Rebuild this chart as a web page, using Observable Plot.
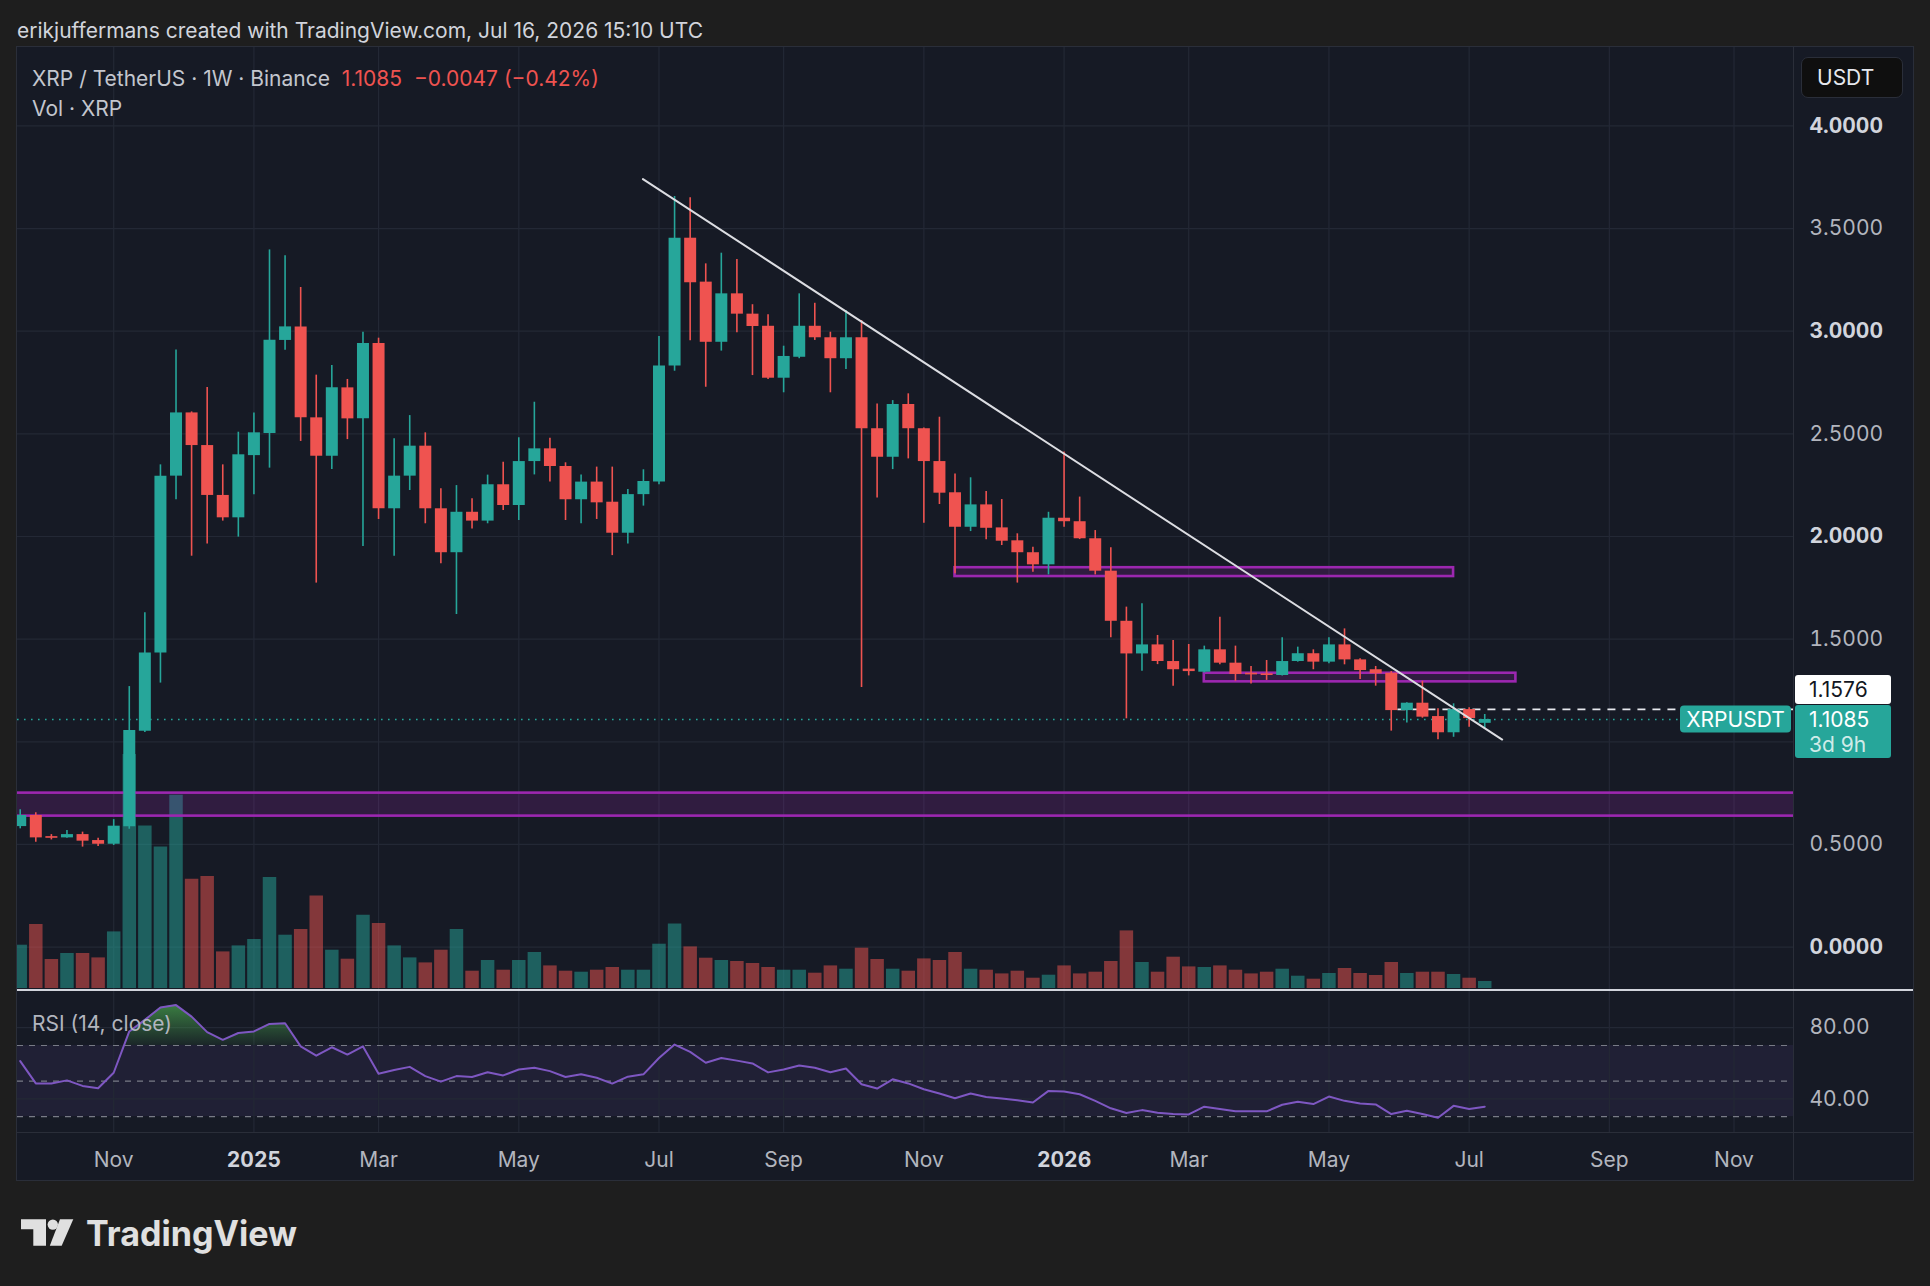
<!DOCTYPE html>
<html lang="en">
<head>
<meta charset="utf-8">
<title>XRP / TetherUS · 1W · Binance</title>
<script src="https://cdn.jsdelivr.net/npm/d3@7"></script>
<script src="https://cdn.jsdelivr.net/npm/@observablehq/plot@0.6"></script>
<style>
  html, body { margin: 0; padding: 0; background: #1e1e1e; }
  body { position: relative; width: 1930px; height: 1286px; overflow: hidden;
         font-family: Inter, "Noto Sans", sans-serif; }
  .layer { position: absolute; }
  .layer svg { display: block; overflow: visible; }
  #panel { position: absolute; left: 17px; top: 47px; width: 1896px; height: 1133px;
           background: #161a25; box-shadow: 0 0 0 1px #2a2e39; }
  .rule { position: absolute; }
  .txt { position: absolute; white-space: nowrap; }
</style>
</head>
<body>
<div class="txt" style="left:17px; top:17px; font-size:21px; line-height:28px; color:#d1d4dc;">erikjuffermans created with TradingView.com, Jul 16, 2026 15:10 UTC</div>
<div id="panel"></div>
<div class="layer" id="gridLayer" style="left:17px; top:47px;"></div>
<div class="layer" id="volLayer" style="left:17px; top:47px;"></div>
<div class="layer" id="priceLayer" style="left:17px; top:47px;"></div>
<div class="layer" id="rsiLayer" style="left:17px; top:990px;"></div>

<!-- pane separators -->
<div class="rule" style="left:1793px; top:47px; width:1px; height:1133px; background:#2a2e39;"></div>
<div class="rule" style="left:17px; top:989px; width:1896px; height:2px; background:#d1d4dc;"></div>
<div class="rule" style="left:17px; top:1132px; width:1896px; height:1px; background:#2a2e39;"></div>

<!-- legend -->
<div class="txt" style="left:32px; top:65px; font-size:21px; line-height:28px; color:#c3c6ce;">
  XRP / TetherUS · 1W · Binance&nbsp;&nbsp;<span id="lastTxt" style="color:#ef5350;"></span>&nbsp;&nbsp;<span id="chgTxt" style="color:#ef5350;"></span>
</div>
<div class="txt" style="left:32px; top:95px; font-size:21px; line-height:28px; color:#c3c6ce;">Vol · XRP</div>
<div class="txt" style="left:32px; top:1010px; font-size:21px; line-height:28px; color:#b2b5be;">RSI (14, close)</div>

<!-- currency selector -->
<div class="txt" style="left:1801px; top:57px; width:102px; height:41px; box-sizing:border-box; border:1px solid #2a2e39; border-radius:7px; background:#0f0f0f; color:#e6e8ee; font-size:21px; line-height:39px; padding-left:15px;">USDT</div>

<!-- logo -->
<svg class="layer" style="left:0; top:1200px;" width="330" height="70">
  <g fill="#e0e0e0">
    <path d="M21 19.3 H46 V45.7 H33.3 V29.3 H21 Z"/>
    <circle cx="52.8" cy="24.6" r="5.2"/>
    <path d="M60 19.3 H73.3 L61.7 45.7 H49.8 Z"/>
    <text x="86" y="45.7" font-family="Inter, 'Noto Sans', sans-serif" font-size="35" font-weight="700"
          textLength="211" lengthAdjust="spacingAndGlyphs">TradingView</text>
  </g>
</svg>

<script>
// ---- weekly XRPUSDT bars (first bar: week of 2024-09-23) ----
const firstWeek = "2024-09-23";
const opens = [0.587,0.641,0.538,0.532,0.548,0.519,0.501,0.586,1.052,1.432,
  2.294,2.602,2.443,2.200,2.091,2.394,2.502,2.955,3.021,2.578,
  2.391,2.724,2.573,2.940,2.135,2.294,2.440,2.135,1.921,2.118,
  2.075,2.252,2.151,2.365,2.427,2.341,2.179,2.265,2.167,2.016,
  2.204,2.265,2.830,3.453,3.239,2.946,3.182,3.083,3.024,2.771,
  2.873,3.024,2.968,2.866,2.968,2.525,2.386,2.643,2.525,2.365,
  2.213,2.045,2.154,2.042,1.979,1.921,1.862,2.089,2.072,1.989,
  1.831,1.587,1.428,1.472,1.391,1.354,1.339,1.448,1.383,1.334,
  1.331,1.323,1.391,1.429,1.388,1.472,1.399,1.351,1.334,1.152,
  1.188,1.123,1.044,1.157,1.090];
const highs = [0.669,0.654,0.548,0.568,0.560,0.530,0.621,1.269,1.628,2.349,
  2.909,2.607,2.726,2.349,2.508,2.602,3.396,3.367,3.213,2.786,
  2.833,2.765,2.995,2.966,2.476,2.589,2.505,2.232,2.248,2.184,
  2.299,2.362,2.481,2.654,2.479,2.359,2.299,2.338,2.338,2.229,
  2.325,2.974,3.656,3.650,3.328,3.380,3.349,3.129,3.080,2.927,
  3.182,3.136,2.995,3.101,3.052,2.646,2.662,2.695,2.529,2.581,
  2.305,2.286,2.219,2.180,2.013,1.948,2.118,2.411,2.192,2.029,
  1.945,1.656,1.672,1.518,1.493,1.474,1.466,1.607,1.466,1.367,
  1.396,1.507,1.461,1.448,1.507,1.550,1.405,1.367,1.342,1.190,
  1.295,1.161,1.185,1.166,1.133];
const lows = [0.576,0.511,0.522,0.530,0.487,0.490,0.495,0.574,1.045,1.286,
  2.179,1.904,1.964,2.075,1.997,2.203,2.333,2.907,2.463,1.773,
  2.326,2.472,1.951,2.083,1.904,2.224,2.062,1.867,1.620,2.037,
  2.062,2.127,2.078,2.300,2.265,2.078,2.062,2.083,1.907,1.964,
  2.148,2.252,2.805,2.953,2.727,2.903,2.992,2.784,2.765,2.700,
  2.866,2.955,2.700,2.813,1.265,2.188,2.326,2.378,2.065,2.156,
  1.818,2.024,1.984,1.956,1.773,1.826,1.813,2.045,1.985,1.813,
  1.507,1.112,1.344,1.376,1.271,1.321,1.335,1.375,1.295,1.282,
  1.299,1.320,1.388,1.351,1.380,1.375,1.303,1.271,1.052,1.091,
  1.115,1.010,1.022,1.071,1.063];
const closes = [0.641,0.532,0.530,0.548,0.516,0.501,0.589,1.055,1.432,2.294,
  2.602,2.443,2.200,2.091,2.398,2.505,2.956,3.021,2.578,2.391,
  2.724,2.573,2.940,2.135,2.294,2.440,2.135,1.921,2.118,2.075,
  2.252,2.151,2.365,2.427,2.341,2.179,2.265,2.164,2.016,2.204,
  2.268,2.831,3.453,3.236,2.946,3.182,3.083,3.023,2.771,2.877,
  3.024,2.968,2.866,2.968,2.525,2.386,2.643,2.525,2.365,2.211,
  2.045,2.154,2.040,1.977,1.921,1.862,2.089,2.072,1.989,1.831,
  1.587,1.428,1.472,1.391,1.351,1.342,1.448,1.383,1.328,1.326,
  1.323,1.391,1.429,1.388,1.472,1.399,1.347,1.331,1.152,1.188,
  1.120,1.044,1.157,1.1132,1.1085];
// weekly volume, millions of XRP
const volumes = [433,640,290,350,350,306,566,2340,1626,1416,
  1933,1093,1120,366,426,490,1110,533,590,926,
  383,293,733,650,426,306,256,383,590,173,
  280,183,280,360,226,173,163,183,210,183,
  183,443,646,416,303,280,270,250,210,183,
  183,153,226,193,403,290,193,173,296,280,
  360,193,183,146,173,103,133,226,146,163,
  270,576,260,163,313,216,210,226,183,146,
  163,193,123,93,150,200,150,130,260,150,
  163,163,140,103,70];
// RSI(14) on weekly closes
const rsiValues = [61.2,48.7,48.7,50.4,47.3,46.0,54.7,77.9,84.4,91.4,
  92.7,86.2,77.5,73.2,77.0,77.9,82.1,82.5,69.5,64.3,
  69.0,64.9,69.5,54.1,56.2,58.0,52.8,49.7,52.8,52.3,
  55.0,53.2,56.5,57.5,55.6,52.3,53.9,51.9,48.6,52.5,
  53.8,63.0,70.5,66.4,60.3,63.0,61.5,59.9,54.9,56.5,
  58.8,57.5,55.0,57.1,48.2,45.8,51.0,48.7,45.4,43.0,
  40.4,43.0,41.1,40.2,39.3,38.0,44.5,44.1,42.6,38.9,
  34.7,32.1,33.7,32.2,31.5,31.3,35.6,34.3,33.0,33.0,
  33.0,36.7,38.4,37.1,41.3,38.9,37.4,36.9,31.5,33.3,
  31.5,29.4,36.1,34.3,35.6];

// ---- time axis ----
const tickDates = ["2024-11-04","2025-01-06","2025-03-03","2025-05-05","2025-07-07","2025-09-01",
  "2025-11-03","2026-01-05","2026-03-02","2026-05-04","2026-07-06","2026-09-07","2026-11-02"];
const tickLabels = ["Nov","2025","Mar","May","Jul","Sep","Nov","2026","Mar","May","Jul","Sep","Nov"];

// ---- price axis ----
const priceGrid = [0, 0.5, 1, 1.5, 2, 2.5, 3, 3.5, 4];
const priceLabelsBold = [0, 2, 3, 4];
const priceLabelsRegular = [0.5, 1.5, 2.5, 3.5];
const rsiGrid = [80, 40];
const rsiLevels = [70, 50, 30];

// ---- drawings ----
const zoneFrom = ["2024-09-01", "2025-11-17", "2026-03-09"];
const zoneTo   = ["2026-12-31", "2026-06-29", "2026-07-27"];
const zoneLow  = [0.638, 1.805, 1.292];
const zoneHigh = [0.750, 1.848, 1.334];
const trendDates  = ["2025-06-29T19:00Z", "2026-07-20T20:00Z"];
const trendPrices = [3.741, 1.011];
const rayStart = "2026-06-04";
const rayPrice = 1.1576;

// ---- derived tables ----
const bars = opens.map((o, i) => ({
  date: d3.utcMonday.offset(new Date(firstWeek), i),
  open: o, high: highs[i], low: lows[i], close: closes[i],
  volume: volumes[i], rsi: rsiValues[i]
}));
const upBars = bars.filter(d => d.close >= d.open);
const downBars = bars.filter(d => d.close < d.open);
const ticks = tickDates.map(d => new Date(d));
const tickText = new Map(ticks.map((d, i) => [+d, tickLabels[i]]));
const isYear = d => /^\d{4}$/.test(tickText.get(+d));
const zones = zoneFrom.map((d, i) => ({x1: new Date(d), x2: new Date(zoneTo[i]), y1: zoneLow[i], y2: zoneHigh[i]}));
const trend = trendDates.map((d, i) => ({date: new Date(d), price: trendPrices[i]}));

const lastClose = closes[closes.length - 1];
const prevClose = closes[closes.length - 2];
const change = lastClose - prevClose;
const fmtSigned = v => (v < 0 ? "\u2212" : "+") + Math.abs(v).toFixed(4);
document.getElementById("lastTxt").textContent = lastClose.toFixed(4);
document.getElementById("chgTxt").textContent =
  fmtSigned(change) + " (" + (change < 0 ? "\u2212" : "+") + Math.abs(change / prevClose * 100).toFixed(2) + "%)";

// ---- shared layout ----
const UP = "#26a69a", DOWN = "#ef5350", GRID = "#232835";
const W = 1896, RIGHT = 120, PRICE_H = 943;
const FONT = "Inter, 'Noto Sans', sans-serif";
const xDomain = [new Date("2024-09-21T18:40Z"), new Date("2026-11-28T17:27Z")];
const priceDomain = [-0.2114, 4.3819];
const baseStyle = {background: "transparent", color: "#b2b5be", fontFamily: FONT, fontSize: "21px"};
const frameOpts = {width: W, marginLeft: 0, marginRight: RIGHT, marginTop: 0, style: baseStyle};

// grid + price scale labels
const gridPlot = Plot.plot({
  ...frameOpts, height: PRICE_H, marginBottom: 0,
  x: {type: "utc", domain: xDomain, axis: null},
  y: {domain: priceDomain, axis: null},
  marks: [
    Plot.ruleY(priceGrid, {stroke: GRID, strokeWidth: 1.2}),
    Plot.ruleX(ticks, {stroke: GRID, strokeWidth: 1.2}),
    Plot.axisY(priceLabelsBold, {anchor: "right", tickSize: 0, tickPadding: 16, label: null,
      tickFormat: d3.format(".4f"), fontWeight: 700, fill: "#d1d4dc"}),
    Plot.axisY(priceLabelsRegular, {anchor: "right", tickSize: 0, tickPadding: 16, label: null,
      tickFormat: d3.format(".4f"), fill: "#b2b5be"})
  ]
});
document.getElementById("gridLayer").append(gridPlot);

// volume histogram (own scale, bottom of the price pane)
const volPlot = Plot.plot({
  ...frameOpts, height: PRICE_H, marginBottom: 2,
  x: {type: "utc", domain: xDomain, axis: null},
  y: {domain: [0, 9410], axis: null},
  marks: [
    Plot.ruleX(upBars, {x: "date", y1: 0, y2: "volume", stroke: UP, strokeOpacity: 0.5, strokeWidth: 13.5, clip: true}),
    Plot.ruleX(downBars, {x: "date", y1: 0, y2: "volume", stroke: DOWN, strokeOpacity: 0.5, strokeWidth: 13.5, clip: true})
  ]
});
document.getElementById("volLayer").append(volPlot);

// zones, candles and drawings
const pricePlot = Plot.plot({
  ...frameOpts, height: PRICE_H, marginBottom: 0,
  x: {type: "utc", domain: xDomain, axis: null},
  y: {domain: priceDomain, axis: null},
  marks: [
    Plot.rect(zones, {x1: "x1", x2: "x2", y1: "y1", y2: "y2", fill: "#9c27b0", fillOpacity: 0.2,
      stroke: "#9c27b0", strokeWidth: 2.6, clip: true}),
    Plot.ruleY([lastClose], {stroke: UP, strokeWidth: 1.6, strokeDasharray: "1.6,5.4"}),
    Plot.ruleY([rayPrice], {x1: new Date(rayStart), x2: xDomain[1], stroke: "#e6e8ee", strokeWidth: 1.8, strokeDasharray: "8,7"}),
    Plot.ruleX(upBars, {x: "date", y1: "low", y2: "high", stroke: UP, strokeWidth: 1.6, clip: true}),
    Plot.ruleX(downBars, {x: "date", y1: "low", y2: "high", stroke: DOWN, strokeWidth: 1.6, clip: true}),
    Plot.ruleX(upBars, {x: "date", y1: "open", y2: "close", stroke: UP, strokeWidth: 12, clip: true}),
    Plot.ruleX(downBars, {x: "date", y1: "open", y2: "close", stroke: DOWN, strokeWidth: 12, clip: true}),
    Plot.line(trend, {x: "date", y: "price", stroke: "#dcdde2", strokeWidth: 2})
  ]
});
document.getElementById("priceLayer").append(pricePlot);

// price tags on the right scale, placed through the y scale
{
  const y = pricePlot.scale("y");
  const svg = d3.select(pricePlot);
  const g = svg.append("g").attr("font-family", FONT).attr("font-size", 21).attr("text-anchor", "start");
  const yLast = y.apply(lastClose);
  const tagTop = yLast - 14;
  g.append("rect").attr("x", 1663).attr("y", yLast - 13.5).attr("width", 111).attr("height", 27).attr("rx", 4).attr("fill", UP);
  g.append("text").attr("x", 1718.5).attr("y", yLast).attr("dy", "0.36em").attr("text-anchor", "middle").attr("fill", "#fff").text("XRPUSDT");
  g.append("rect").attr("x", 1778).attr("y", tagTop).attr("width", 96).attr("height", 53).attr("rx", 3).attr("fill", UP);
  g.append("text").attr("x", 1792).attr("y", yLast).attr("dy", "0.36em").attr("fill", "#fff").text(lastClose.toFixed(4));
  g.append("text").attr("x", 1792).attr("y", yLast + 25).attr("dy", "0.36em").attr("fill", "rgba(255,255,255,0.8)").text("3d 9h");
  const yRay = y.apply(rayPrice);
  let rayTop = yRay - 14.5;
  if (rayTop + 29 > tagTop - 1) rayTop = tagTop - 30;
  g.append("rect").attr("x", 1778).attr("y", rayTop).attr("width", 96).attr("height", 29).attr("rx", 3).attr("fill", "#ffffff");
  g.append("text").attr("x", 1792).attr("y", rayTop + 14.5).attr("dy", "0.36em").attr("fill", "#131722").text(rayPrice.toFixed(4));
}

// RSI pane with the time axis underneath
const rsiPlot = Plot.plot({
  ...frameOpts, height: 190, marginBottom: 48,
  x: {type: "utc", domain: xDomain, axis: null},
  y: {domain: [21.12, 100.9], axis: null},
  marks: [
    Plot.rect([{x1: xDomain[0], x2: xDomain[1]}], {x1: "x1", x2: "x2", y1: 30, y2: 70, fill: "#7e57c2", fillOpacity: 0.1}),
    Plot.ruleY(rsiGrid, {stroke: GRID, strokeWidth: 1.2}),
    Plot.ruleX(ticks, {stroke: GRID, strokeWidth: 1.2}),
    Plot.ruleY(rsiLevels, {stroke: "#787b86", strokeWidth: 1.2, strokeDasharray: "6,6"}),
    Plot.areaY(bars, {x: "date", y1: 70, y2: "rsi", fill: "url(#rsiOverbought)"}),
    Plot.line(bars, {x: "date", y: "rsi", stroke: "#7e57c2", strokeWidth: 2}),
    Plot.axisY(rsiGrid, {anchor: "right", tickSize: 0, tickPadding: 16, label: null, tickFormat: d3.format(".2f"), fill: "#b2b5be"}),
    Plot.axisX(ticks.filter(d => !isYear(d)), {anchor: "bottom", tickSize: 0, tickPadding: 19.5, label: null,
      tickFormat: d => tickText.get(+d), fill: "#b2b5be"}),
    Plot.axisX(ticks.filter(isYear), {anchor: "bottom", tickSize: 0, tickPadding: 19.5, label: null,
      tickFormat: d => tickText.get(+d), fontWeight: 700, fill: "#d1d4dc"})
  ]
});
document.getElementById("rsiLayer").append(rsiPlot);
{
  const y = rsiPlot.scale("y");
  const svg = d3.select(rsiPlot);
  const defs = svg.insert("defs", ":first-child");
  defs.append("clipPath").attr("id", "rsiAbove70")
    .append("rect").attr("x", 0).attr("y", 0).attr("width", W - RIGHT).attr("height", y.apply(70));
  const grad = defs.append("linearGradient").attr("id", "rsiOverbought")
    .attr("gradientUnits", "userSpaceOnUse").attr("x1", 0).attr("x2", 0)
    .attr("y1", y.apply(100)).attr("y2", y.apply(70));
  grad.append("stop").attr("offset", 0).attr("stop-color", "#4caf50").attr("stop-opacity", 0.85);
  grad.append("stop").attr("offset", 1).attr("stop-color", "#4caf50").attr("stop-opacity", 0.08);
  svg.selectAll('g[aria-label="area"]').attr("clip-path", "url(#rsiAbove70)");
}
</script>
</body>
</html>
